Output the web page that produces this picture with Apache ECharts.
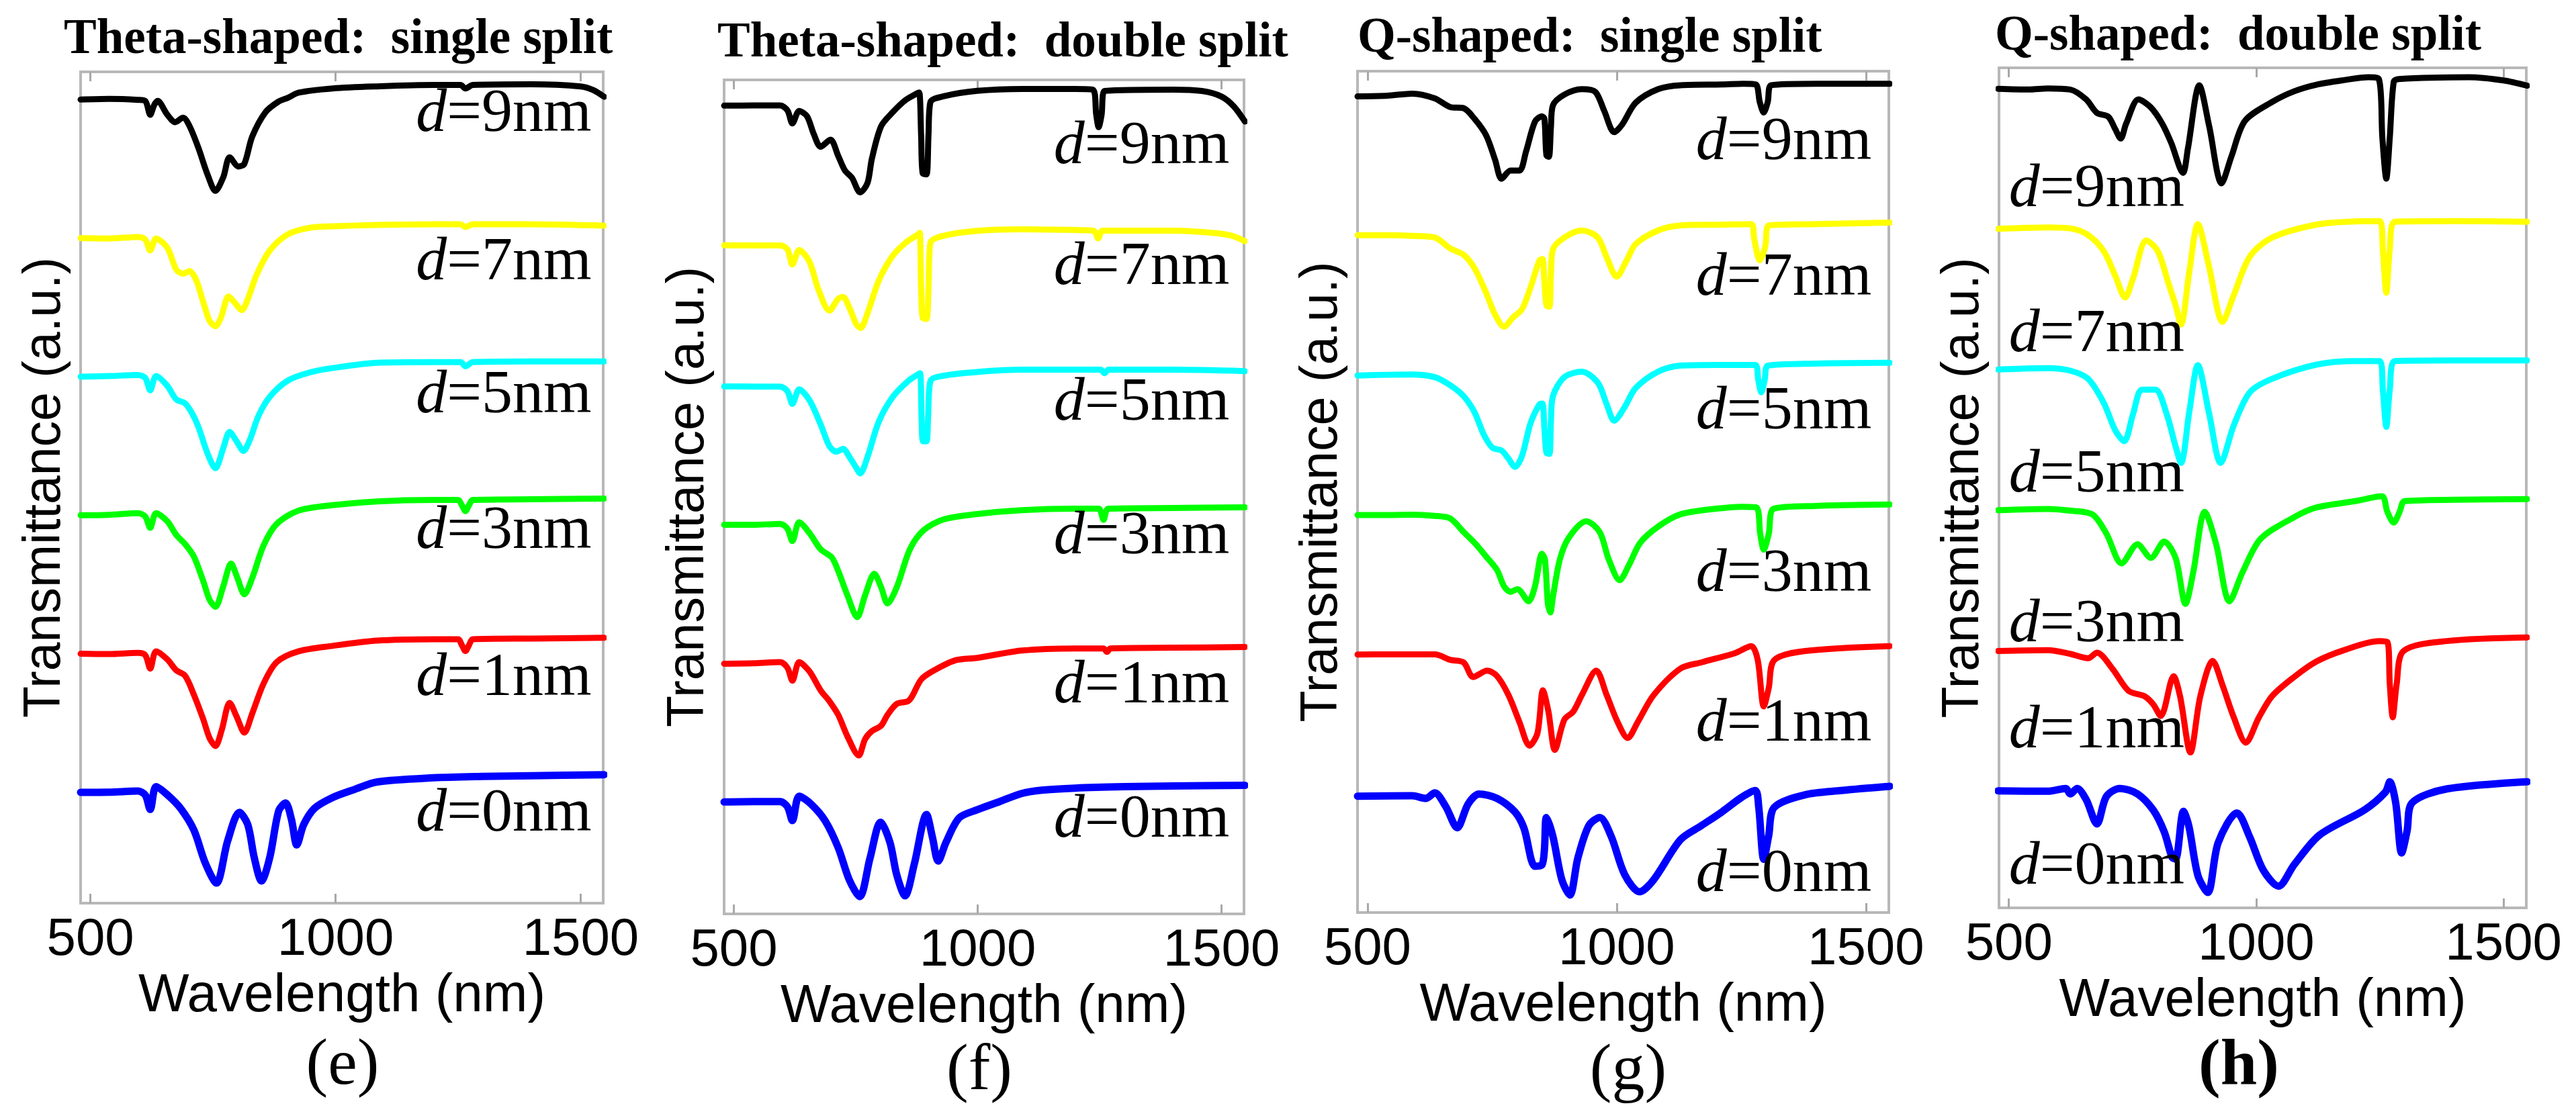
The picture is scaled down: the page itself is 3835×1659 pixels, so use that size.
<!DOCTYPE html>
<html><head><meta charset="utf-8">
<script src="https://cdn.jsdelivr.net/npm/echarts@6.0.0/dist/echarts.min.js"></script>
<style>html,body{margin:0;padding:0;background:#fff}#c{width:3835px;height:1659px}</style>
</head><body><div id="c"></div>
<script>
// ---------------- data (wavelength nm, transmittance a.u.) ----------------
const WL_TICKS = [500, 1000, 1500];
const OFFSETS = [5, 4, 3, 2, 1, 0];
const D_VALUES = ['9', '7', '5', '3', '1', '0'];
const PANEL_TITLES = ['Theta-shaped:  single split', 'Theta-shaped:  double split', 'Q-shaped:  single split', 'Q-shaped:  double split'];
const PANEL_LETTERS = ['(e)', '(f)', '(g)', '(h)'];

// panel (e) Theta single split
const e_d9 = [[480,0.80],[538,0.805],[597,0.798],[612,0.79],[622,0.69],[630,0.76],[637,0.79],[657,0.69],[673,0.637],[689,0.669],[702,0.61],[720,0.454],[739,0.258],[755,0.141],[771,0.239],[784,0.383],[802,0.317],[814,0.336],[830,0.532],[857,0.708],[884,0.786],[903,0.813],[925,0.85],[994,0.88],[1085,0.895],[1200,0.905],[1255,0.905],[1265,0.88],[1280,0.905],[1400,0.91],[1500,0.895],[1525,0.87],[1548,0.82]];
const e_d7 = [[480,0.80],[538,0.797],[597,0.808],[612,0.79],[622,0.711],[634,0.797],[657,0.73],[675,0.574],[689,0.543],[702,0.562],[716,0.496],[730,0.34],[743,0.203],[755,0.164],[766,0.223],[782,0.379],[793,0.34],[809,0.281],[821,0.359],[839,0.535],[866,0.711],[903,0.828],[948,0.875],[994,0.885],[1085,0.895],[1200,0.90],[1255,0.90],[1265,0.88],[1280,0.90],[1400,0.90],[1548,0.89]];
const e_d5 = [[480,0.80],[538,0.804],[597,0.812],[612,0.79],[622,0.702],[634,0.804],[657,0.733],[675,0.636],[693,0.608],[707,0.538],[720,0.44],[739,0.245],[755,0.139],[771,0.284],[784,0.401],[798,0.335],[812,0.264],[825,0.342],[843,0.518],[866,0.655],[903,0.772],[948,0.831],[994,0.862],[1085,0.90],[1200,0.905],[1255,0.905],[1265,0.875],[1280,0.905],[1400,0.91],[1548,0.91]];
const e_d3 = [[480,0.80],[538,0.803],[597,0.815],[612,0.79],[622,0.709],[634,0.815],[657,0.756],[675,0.658],[693,0.592],[711,0.502],[730,0.326],[743,0.19],[755,0.139],[771,0.287],[787,0.451],[800,0.346],[814,0.229],[830,0.346],[853,0.58],[880,0.737],[925,0.834],[994,0.873],[1085,0.90],[1200,0.91],[1250,0.91],[1258,0.87],[1265,0.83],[1272,0.87],[1280,0.91],[1400,0.915],[1548,0.92]];
const e_d1 = [[480,0.80],[538,0.798],[597,0.806],[612,0.79],[622,0.693],[634,0.818],[657,0.759],[675,0.681],[693,0.642],[711,0.505],[730,0.329],[743,0.192],[755,0.134],[768,0.251],[784,0.446],[798,0.349],[814,0.231],[830,0.368],[853,0.583],[880,0.74],[925,0.818],[994,0.857],[1085,0.895],[1200,0.905],[1250,0.905],[1258,0.86],[1265,0.82],[1272,0.86],[1280,0.905],[1400,0.91],[1548,0.915]];
const e_d0 = [[480,0.80],[538,0.801],[597,0.809],[612,0.78],[622,0.676],[634,0.841],[657,0.782],[684,0.684],[711,0.528],[734,0.293],[757,0.145],[780,0.45],[804,0.655],[821,0.567],[834,0.332],[849,0.16],[866,0.332],[884,0.665],[898,0.723],[910,0.606],[921,0.42],[935,0.567],[957,0.684],[994,0.762],[1039,0.821],[1085,0.875],[1200,0.905],[1300,0.915],[1400,0.92],[1548,0.927]];

// panel (f) Theta double split
const f_d9 = [[480,0.815],[540,0.816],[595,0.816],[610,0.78],[620,0.687],[634,0.777],[650,0.738],[664,0.609],[678,0.519],[698,0.57],[714,0.453],[728,0.347],[742,0.297],[759,0.191],[774,0.258],[783,0.433],[802,0.667],[825,0.765],[852,0.855],[875,0.902],[880,0.91],[884,0.6],[887,0.33],[895,0.32],[899,0.6],[903,0.84],[930,0.882],[999,0.921],[1091,0.935],[1200,0.935],[1236,0.93],[1243,0.75],[1248,0.66],[1254,0.75],[1260,0.92],[1400,0.93],[1460,0.92],[1500,0.88],[1525,0.81],[1548,0.70]];
const f_d7 = [[480,0.81],[540,0.809],[595,0.809],[610,0.78],[620,0.672],[634,0.777],[655,0.692],[673,0.496],[696,0.34],[714,0.426],[724,0.438],[737,0.36],[751,0.243],[760,0.215],[774,0.321],[797,0.555],[825,0.731],[852,0.828],[877,0.887],[881,0.9],[884,0.5],[887,0.29],[895,0.28],[899,0.5],[903,0.828],[930,0.879],[999,0.914],[1091,0.925],[1200,0.92],[1238,0.915],[1247,0.86],[1256,0.915],[1400,0.915],[1480,0.90],[1520,0.88],[1548,0.84]];
const f_d5 = [[480,0.795],[540,0.794],[595,0.794],[610,0.76],[620,0.669],[634,0.774],[655,0.696],[678,0.521],[696,0.365],[710,0.326],[724,0.345],[737,0.287],[751,0.209],[759,0.169],[774,0.287],[797,0.54],[825,0.716],[857,0.833],[877,0.88],[882,0.89],[885,0.55],[888,0.40],[895,0.40],[898,0.55],[903,0.833],[930,0.872],[999,0.899],[1091,0.915],[1200,0.915],[1252,0.915],[1260,0.89],[1268,0.915],[1400,0.915],[1548,0.905]];
const f_d3 = [[480,0.80],[540,0.799],[595,0.806],[610,0.77],[620,0.682],[634,0.818],[655,0.74],[678,0.623],[701,0.564],[714,0.467],[733,0.291],[753,0.135],[769,0.291],[788,0.447],[802,0.35],[815,0.233],[834,0.35],[861,0.623],[889,0.76],[930,0.838],[999,0.877],[1091,0.905],[1200,0.915],[1248,0.915],[1258,0.835],[1268,0.915],[1400,0.92],[1548,0.925]];
const f_d1 = [[480,0.80],[540,0.803],[595,0.811],[610,0.77],[620,0.678],[634,0.811],[655,0.745],[678,0.608],[696,0.53],[714,0.432],[733,0.276],[756,0.14],[769,0.257],[783,0.315],[802,0.354],[815,0.432],[834,0.511],[857,0.53],[866,0.569],[884,0.686],[907,0.745],[953,0.823],[999,0.842],[1091,0.895],[1200,0.91],[1258,0.91],[1265,0.885],[1272,0.91],[1400,0.915],[1548,0.92]];
const f_d0 = [[480,0.805],[540,0.808],[595,0.808],[610,0.77],[620,0.671],[634,0.847],[659,0.788],[687,0.671],[714,0.476],[737,0.242],[758,0.125],[779,0.398],[801,0.66],[820,0.515],[834,0.281],[851,0.13],[870,0.359],[895,0.715],[907,0.554],[919,0.38],[935,0.515],[962,0.691],[999,0.749],[1045,0.808],[1091,0.867],[1131,0.89],[1200,0.905],[1300,0.915],[1400,0.92],[1548,0.925]];

// panel (g) Q single split
const g_d9 = [[480,0.82],[540,0.825],[590,0.84],[635,0.806],[666,0.744],[693,0.736],[715,0.659],[738,0.543],[756,0.368],[769,0.233],[787,0.291],[805,0.291],[818,0.426],[836,0.64],[850,0.678],[855,0.66],[859,0.40],[864,0.39],[868,0.60],[872,0.756],[895,0.833],[930,0.872],[957,0.853],[975,0.717],[995,0.565],[1011,0.62],[1038,0.775],[1083,0.872],[1128,0.90],[1212,0.905],[1254,0.91],[1279,0.905],[1287,0.78],[1295,0.705],[1303,0.78],[1310,0.9],[1400,0.91],[1548,0.91]];
const g_d7 = [[480,0.83],[540,0.83],[590,0.826],[635,0.814],[666,0.736],[693,0.69],[715,0.593],[738,0.419],[756,0.264],[774,0.178],[792,0.244],[810,0.302],[827,0.457],[845,0.651],[851,0.66],[855,0.50],[859,0.33],[865,0.32],[868,0.55],[872,0.729],[895,0.814],[930,0.864],[962,0.814],[980,0.671],[1000,0.535],[1020,0.651],[1038,0.767],[1083,0.864],[1128,0.90],[1200,0.905],[1270,0.91],[1276,0.80],[1287,0.651],[1298,0.75],[1305,0.9],[1400,0.91],[1548,0.92]];
const g_d5 = [[480,0.83],[540,0.835],[590,0.837],[635,0.818],[666,0.76],[693,0.682],[715,0.566],[733,0.411],[751,0.314],[769,0.295],[783,0.236],[796,0.178],[810,0.256],[827,0.488],[845,0.624],[851,0.63],[855,0.45],[859,0.28],[865,0.27],[868,0.5],[872,0.682],[895,0.818],[930,0.857],[962,0.779],[980,0.624],[995,0.508],[1016,0.605],[1038,0.74],[1083,0.857],[1128,0.90],[1200,0.905],[1278,0.905],[1284,0.80],[1290,0.71],[1297,0.80],[1303,0.90],[1400,0.915],[1548,0.92]];
const g_d3 = [[480,0.835],[540,0.835],[590,0.837],[635,0.829],[666,0.81],[693,0.713],[715,0.636],[738,0.539],[760,0.442],[774,0.326],[787,0.287],[801,0.306],[823,0.22],[836,0.326],[850,0.558],[856,0.52],[862,0.20],[867,0.14],[872,0.25],[886,0.519],[904,0.674],[939,0.791],[966,0.713],[984,0.519],[1006,0.37],[1025,0.481],[1047,0.636],[1083,0.752],[1128,0.84],[1200,0.88],[1250,0.894],[1280,0.89],[1288,0.70],[1295,0.588],[1305,0.70],[1315,0.88],[1400,0.90],[1548,0.91]];
const g_d1 = [[480,0.84],[540,0.841],[590,0.841],[635,0.841],[666,0.802],[693,0.783],[712,0.68],[740,0.725],[760,0.686],[783,0.55],[805,0.357],[825,0.19],[841,0.279],[852,0.585],[863,0.434],[876,0.16],[895,0.376],[913,0.434],[930,0.55],[959,0.725],[980,0.55],[1002,0.357],[1022,0.245],[1042,0.357],[1074,0.55],[1128,0.74],[1171,0.785],[1237,0.85],[1270,0.90],[1283,0.80],[1295,0.47],[1305,0.60],[1316,0.80],[1378,0.865],[1548,0.90]];
const g_d0 = [[480,0.83],[590,0.833],[617,0.814],[635,0.853],[657,0.756],[680,0.605],[702,0.775],[724,0.845],[760,0.814],[796,0.717],[814,0.601],[836,0.33],[850,0.34],[855,0.45],[859,0.678],[872,0.543],[890,0.233],[906,0.125],[922,0.388],[944,0.62],[966,0.678],[989,0.543],[1016,0.271],[1046,0.148],[1074,0.233],[1128,0.52],[1170,0.62],[1212,0.72],[1250,0.82],[1278,0.87],[1285,0.75],[1295,0.38],[1305,0.55],[1316,0.75],[1378,0.84],[1450,0.87],[1548,0.90]];

// panel (h) Q double split
const h_d9 = [[478,0.85],[540,0.845],[579,0.853],[624,0.845],[656,0.775],[678,0.678],[701,0.651],[715,0.562],[726,0.495],[737,0.601],[762,0.775],[787,0.717],[810,0.601],[828,0.465],[852,0.25],[862,0.426],[885,0.875],[905,0.581],[930,0.175],[950,0.368],[977,0.62],[1032,0.756],[1077,0.833],[1122,0.88],[1177,0.912],[1227,0.933],[1248,0.92],[1255,0.50],[1263,0.209],[1270,0.50],[1278,0.90],[1288,0.92],[1430,0.933],[1500,0.91],[1548,0.872]];
const h_d7 = [[478,0.85],[579,0.86],[624,0.853],[660,0.806],[692,0.69],[715,0.515],[735,0.36],[751,0.496],[778,0.767],[801,0.69],[823,0.457],[837,0.302],[848,0.167],[865,0.55],[882,0.884],[905,0.574],[932,0.186],[955,0.38],[987,0.651],[1032,0.787],[1122,0.88],[1200,0.903],[1250,0.905],[1256,0.70],[1263,0.393],[1270,0.70],[1280,0.90],[1400,0.905],[1548,0.90]];
const h_d5 = [[478,0.845],[579,0.855],[624,0.837],[660,0.779],[692,0.605],[715,0.411],[733,0.333],[751,0.527],[769,0.702],[796,0.702],[819,0.527],[837,0.295],[848,0.178],[865,0.55],[882,0.876],[905,0.527],[928,0.178],[955,0.45],[987,0.682],[1032,0.779],[1122,0.88],[1200,0.905],[1250,0.905],[1256,0.70],[1263,0.435],[1270,0.70],[1280,0.905],[1400,0.91],[1548,0.91]];
const h_d3 = [[478,0.84],[579,0.849],[624,0.837],[669,0.81],[697,0.674],[728,0.461],[760,0.597],[787,0.5],[814,0.616],[837,0.5],[857,0.171],[873,0.403],[896,0.829],[919,0.597],[946,0.19],[973,0.403],[1009,0.636],[1077,0.791],[1122,0.86],[1200,0.905],[1254,0.94],[1265,0.83],[1278,0.752],[1290,0.83],[1300,0.905],[1400,0.915],[1548,0.92]];
const h_d1 = [[478,0.835],[579,0.841],[624,0.814],[660,0.783],[678,0.822],[710,0.705],[742,0.55],[774,0.512],[792,0.453],[807,0.37],[833,0.655],[846,0.512],[867,0.11],[887,0.512],[912,0.764],[932,0.589],[955,0.357],[979,0.18],[1005,0.357],[1032,0.512],[1077,0.65],[1122,0.76],[1177,0.84],[1248,0.905],[1265,0.90],[1270,0.60],[1276,0.361],[1284,0.60],[1298,0.835],[1386,0.906],[1548,0.932]];
const h_d0 = [[478,0.836],[579,0.833],[615,0.853],[624,0.814],[638,0.853],[656,0.775],[678,0.60],[697,0.795],[724,0.853],[760,0.814],[792,0.698],[814,0.543],[830,0.36],[837,0.349],[853,0.69],[864,0.581],[882,0.233],[902,0.11],[923,0.465],[961,0.678],[987,0.504],[1014,0.271],[1045,0.155],[1077,0.31],[1128,0.52],[1219,0.70],[1261,0.826],[1270,0.90],[1282,0.75],[1294,0.392],[1305,0.55],[1315,0.75],[1386,0.85],[1548,0.90]];

const PANEL_DATA = [
  [e_d9, e_d7, e_d5, e_d3, e_d1, e_d0],
  [f_d9, f_d7, f_d5, f_d3, f_d1, f_d0],
  [g_d9, g_d7, g_d5, g_d3, g_d1, g_d0],
  [h_d9, h_d7, h_d5, h_d3, h_d1, h_d0]
];

// ---------------- layout & style ----------------
const COLORS = ['#000000', '#ffff00', '#00ffff', '#00ff00', '#ff0000', '#0000ff'];
const LINE_WIDTHS = [9, 9, 9, 9, 9, 11];
const GRIDS = [
  {left: 120, top: 107, width: 778, height: 1238},
  {left: 1078, top: 119, width: 774, height: 1242},
  {left: 2021, top: 106, width: 791, height: 1253},
  {left: 2976, top: 101, width: 785, height: 1251}
];
const LABEL_POS = [
  {x: 1164, y: [5.69, 4.62, 3.66, 2.68, 1.62, 0.64]},
  {x: 1156, y: [5.52, 4.65, 3.67, 2.71, 1.64, 0.67]},
  {x: 1159, y: [5.49, 4.52, 3.57, 2.41, 1.34, 0.27]},
  {x: 500,  y: [5.13, 4.09, 3.09, 2.02, 1.26, 0.29]}
];
const TITLE_POS = [[95, 60], [1068, 65], [2021, 58], [2970, 55]];
const LETTER_POS = [[510, 1588], [1458, 1596], [2424, 1596], [3333, 1590]];
const X_MIN = 480, X_MAX = 1546;
const SANS = '"Liberation Sans", Arial, sans-serif';
const SERIF = '"Liberation Serif", "Times New Roman", serif';
const BOX = '#b8b8b8';

const grid = GRIDS.map(g => Object.assign({show: true, borderColor: BOX, borderWidth: 4, backgroundColor: 'transparent', containLabel: false, outerBoundsMode: 'none'}, g));

const xAxis = [];
GRIDS.forEach((g, i) => {
  xAxis.push({
    type: 'value', gridIndex: i, min: X_MIN, max: X_MAX, position: 'bottom',
    axisLine: {show: false}, splitLine: {show: false},
    axisTick: {show: true, inside: true, length: 14, customValues: WL_TICKS, lineStyle: {color: '#a8a8a8', width: 3}},
    axisLabel: {show: true, customValues: WL_TICKS, formatter: v => String(v), margin: 16, fontSize: 78, fontFamily: SANS, color: '#000'},
    name: 'Wavelength (nm)', nameLocation: 'middle', nameGap: 94,
    nameTextStyle: {fontSize: 80, fontFamily: SANS, color: '#000'}
  });
});
GRIDS.forEach((g, i) => {
  xAxis.push({
    type: 'value', gridIndex: i, min: X_MIN, max: X_MAX, position: 'top',
    axisLine: {show: false}, splitLine: {show: false},
    axisTick: {show: true, inside: true, length: 14, customValues: WL_TICKS, lineStyle: {color: '#a8a8a8', width: 3}},
    axisLabel: {show: false}
  });
});
const yAxis = GRIDS.map((g, i) => ({
  type: 'value', gridIndex: i, min: 0, max: 6,
  axisLine: {show: false}, axisTick: {show: false}, axisLabel: {show: false}, splitLine: {show: false},
  name: 'Transmittance (a.u.)', nameLocation: 'middle', nameGap: 14,
  nameTextStyle: {fontSize: 77, fontFamily: SANS, color: '#000'}
}));

const series = [];
PANEL_DATA.forEach((curves, p) => {
  curves.forEach((arr, k) => {
    series.push({
      type: 'line', xAxisIndex: p, yAxisIndex: p,
      data: arr.map(d => [d[0], d[1] + OFFSETS[k]]),
      showSymbol: false, smooth: 0.3, silent: true, clip: true,
      lineStyle: {color: COLORS[k], width: LINE_WIDTHS[k], cap: 'round', join: 'round'},
      z: 2
    });
  });
  series.push({
    type: 'scatter', xAxisIndex: p, yAxisIndex: p, symbolSize: 0, silent: true, z: 10,
    itemStyle: {opacity: 1, color: '#000'},
    data: D_VALUES.map((v, k) => ({value: [LABEL_POS[p].x, LABEL_POS[p].y[k]], t: v})),
    label: {
      show: true, position: 'right', distance: 0, color: '#000', opacity: 1, textBorderWidth: 0,
      formatter: prm => '{i|d}{n|=' + prm.data.t + 'nm}',
      rich: {
        i: {fontFamily: SERIF, fontStyle: 'italic', fontSize: 92, color: '#000', textBorderWidth: 0},
        n: {fontFamily: SERIF, fontSize: 92, color: '#000', textBorderWidth: 0}
      }
    }
  });
});

const graphic = [];
PANEL_TITLES.forEach((t, p) => {
  graphic.push({type: 'text', x: TITLE_POS[p][0], y: TITLE_POS[p][1],
    style: {text: t, font: 'bold 73px ' + SERIF, fill: '#000', textAlign: 'left', textVerticalAlign: 'middle'}});
  graphic.push({type: 'text', x: LETTER_POS[p][0], y: LETTER_POS[p][1],
    style: {text: PANEL_LETTERS[p], font: (p === 3 ? 'bold ' : '') + '98px ' + SERIF, fill: '#000', textAlign: 'center', textVerticalAlign: 'middle'}});
});

const chart = echarts.init(document.getElementById('c'), null, {renderer: 'canvas', width: 3835, height: 1659});
chart.setOption({
  animation: false,
  backgroundColor: '#ffffff',
  grid, xAxis, yAxis, series, graphic
});
</script>
</body></html>
